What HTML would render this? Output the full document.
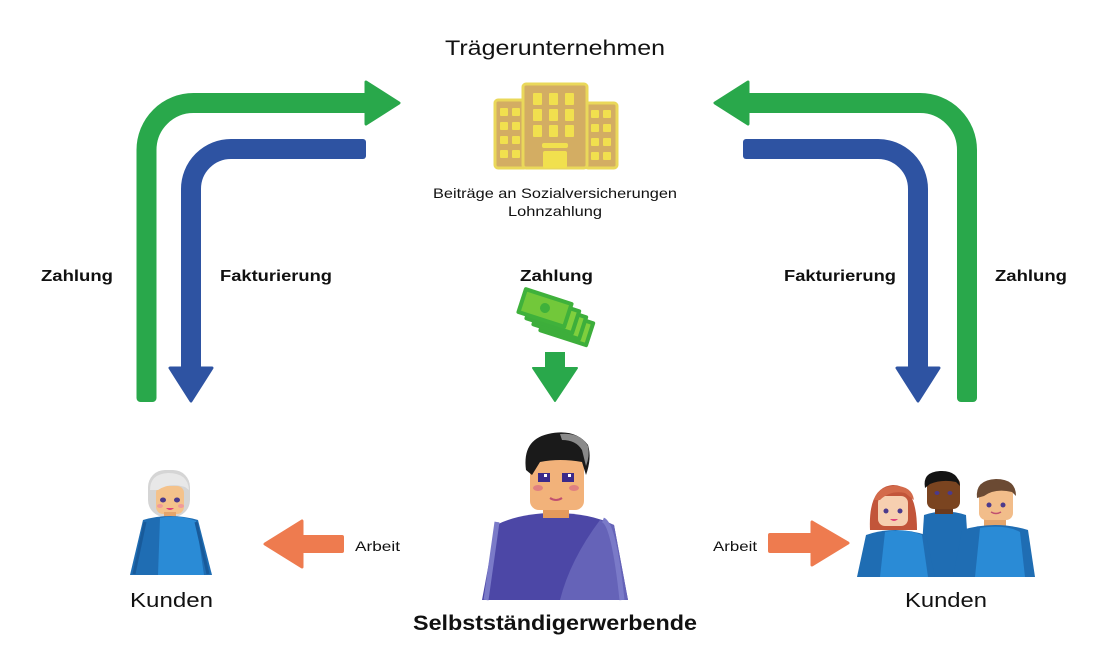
<!DOCTYPE html>
<html><head><meta charset="utf-8"><style>
html,body{margin:0;padding:0;background:#fff;}
svg{display:block;}
text{font-family:"Liberation Sans",sans-serif;fill:#111;}
</style></head><body>
<svg width="1104" height="664" viewBox="0 0 1104 664" xmlns="http://www.w3.org/2000/svg">
<rect width="1104" height="664" fill="#fff"/>

<!-- Left arrows -->
<path d="M146.5,394 V150 A47,47 0 0 1 193.5,103 H368" fill="none" stroke="#29a84b" stroke-width="20"/>
<rect x="136.5" y="380" width="20" height="22" rx="4" fill="#29a84b"/>
<polygon points="366,82 399,103 366,124" fill="#29a84b" stroke="#29a84b" stroke-width="3" stroke-linejoin="round"/>
<path d="M191,370 V189 A40,40 0 0 1 231,149 H362" fill="none" stroke="#2e53a2" stroke-width="20"/>
<rect x="350" y="139" width="16" height="20" rx="3" fill="#2e53a2"/>
<polygon points="170,368 212,368 191,401" fill="#2e53a2" stroke="#2e53a2" stroke-width="3" stroke-linejoin="round"/>

<!-- Right arrows -->
<path d="M967,394 V150 A47,47 0 0 0 920,103 H746" fill="none" stroke="#29a84b" stroke-width="20"/>
<rect x="957" y="380" width="20" height="22" rx="4" fill="#29a84b"/>
<polygon points="748,82 715,103 748,124" fill="#29a84b" stroke="#29a84b" stroke-width="3" stroke-linejoin="round"/>
<path d="M918,370 V189 A40,40 0 0 0 878,149 H750" fill="none" stroke="#2e53a2" stroke-width="20"/>
<rect x="743" y="139" width="16" height="20" rx="3" fill="#2e53a2"/>
<polygon points="897,368 939,368 918,401" fill="#2e53a2" stroke="#2e53a2" stroke-width="3" stroke-linejoin="round"/>

<!-- Labels -->
<text x="555" y="55" font-size="21" textLength="220" lengthAdjust="spacingAndGlyphs" text-anchor="middle">Trägerunternehmen</text>
<text x="555" y="198" font-size="14" textLength="244" lengthAdjust="spacingAndGlyphs" text-anchor="middle">Beiträge an Sozialversicherungen</text>
<text x="555" y="216" font-size="14" textLength="94" lengthAdjust="spacingAndGlyphs" text-anchor="middle">Lohnzahlung</text>
<text x="41" y="281" font-size="16" font-weight="bold" textLength="72" lengthAdjust="spacingAndGlyphs">Zahlung</text>
<text x="220" y="281" font-size="16" font-weight="bold" textLength="112" lengthAdjust="spacingAndGlyphs">Fakturierung</text>
<text x="520" y="281" font-size="16" font-weight="bold" textLength="73" lengthAdjust="spacingAndGlyphs">Zahlung</text>
<text x="784" y="281" font-size="16" font-weight="bold" textLength="112" lengthAdjust="spacingAndGlyphs">Fakturierung</text>
<text x="995" y="281" font-size="16" font-weight="bold" textLength="72" lengthAdjust="spacingAndGlyphs">Zahlung</text>
<text x="130" y="607" font-size="20" textLength="83" lengthAdjust="spacingAndGlyphs">Kunden</text>
<text x="905" y="607" font-size="20" textLength="82" lengthAdjust="spacingAndGlyphs">Kunden</text>
<text x="355" y="551" font-size="14" textLength="45" lengthAdjust="spacingAndGlyphs">Arbeit</text>
<text x="713" y="551" font-size="14" textLength="44" lengthAdjust="spacingAndGlyphs">Arbeit</text>
<text x="413" y="630" font-size="21" font-weight="bold" textLength="284" lengthAdjust="spacingAndGlyphs">Selbstständigerwerbende</text>

<!-- Building -->
<g>
<rect x="495" y="100" width="32" height="68" rx="3" fill="#d3ad63" stroke="#ead85a" stroke-width="3"/>
<rect x="585" y="103" width="32" height="65" rx="3" fill="#d3ad63" stroke="#ead85a" stroke-width="3"/>
<rect x="523" y="84" width="64" height="84" rx="3" fill="#d3ad63" stroke="#ead85a" stroke-width="3"/>
<g fill="#f1e04e">
<rect x="500" y="108" width="8" height="8" rx="1"/><rect x="512" y="108" width="8" height="8" rx="1"/>
<rect x="500" y="122" width="8" height="8" rx="1"/><rect x="512" y="122" width="8" height="8" rx="1"/>
<rect x="500" y="136" width="8" height="8" rx="1"/><rect x="512" y="136" width="8" height="8" rx="1"/>
<rect x="500" y="150" width="8" height="8" rx="1"/><rect x="512" y="150" width="8" height="8" rx="1"/>
<rect x="591" y="110" width="8" height="8" rx="1"/><rect x="603" y="110" width="8" height="8" rx="1"/>
<rect x="591" y="124" width="8" height="8" rx="1"/><rect x="603" y="124" width="8" height="8" rx="1"/>
<rect x="591" y="138" width="8" height="8" rx="1"/><rect x="603" y="138" width="8" height="8" rx="1"/>
<rect x="591" y="152" width="8" height="8" rx="1"/><rect x="603" y="152" width="8" height="8" rx="1"/>
<rect x="533" y="93" width="9" height="12" rx="1"/><rect x="549" y="93" width="9" height="12" rx="1"/><rect x="565" y="93" width="9" height="12" rx="1"/>
<rect x="533" y="109" width="9" height="12" rx="1"/><rect x="549" y="109" width="9" height="12" rx="1"/><rect x="565" y="109" width="9" height="12" rx="1"/>
<rect x="533" y="125" width="9" height="12" rx="1"/><rect x="549" y="125" width="9" height="12" rx="1"/><rect x="565" y="125" width="9" height="12" rx="1"/>
<rect x="542" y="143" width="26" height="5" rx="2"/>
<rect x="543" y="151" width="24" height="17" rx="2"/>
</g>
</g>

<!-- Money -->
<g>
<g transform="rotate(18 566 326)">
<rect x="541" y="313" width="52" height="27" rx="2" fill="#3dae3b"/><rect x="545" y="317" width="44" height="19" fill="#7fcf3d"/>
</g>
<g transform="rotate(18 559 320)">
<rect x="534" y="307" width="52" height="27" rx="2" fill="#3dae3b"/><rect x="538" y="311" width="44" height="19" fill="#7fcf3d"/>
</g>
<g transform="rotate(18 552 314)">
<rect x="527" y="301" width="52" height="27" rx="2" fill="#3dae3b"/><rect x="531" y="305" width="44" height="19" fill="#7fcf3d"/>
</g>
<g transform="rotate(18 545 308)">
<rect x="519" y="294" width="52" height="28" rx="2" fill="#3fb13b"/><rect x="523" y="298" width="44" height="20" fill="#72c83a"/>
<circle cx="545" cy="308" r="5" fill="#3fb13b"/>
</g>
</g>

<!-- Green down arrow -->
<rect x="545" y="352" width="20" height="18" fill="#29a84b"/>
<polygon points="533,368 577,368 555,401" fill="#29a84b" stroke="#29a84b" stroke-width="2" stroke-linejoin="round"/>

<!-- Orange arrows -->
<rect x="300" y="535" width="44" height="18" rx="2" fill="#ee7b4f"/>
<polygon points="302,521 302,567 265,544" fill="#ee7b4f" stroke="#ee7b4f" stroke-width="3" stroke-linejoin="round"/>
<rect x="768" y="533" width="46" height="20" rx="2" fill="#ee7b4f"/>
<polygon points="812,522 812,565 848,543" fill="#ee7b4f" stroke="#ee7b4f" stroke-width="3" stroke-linejoin="round"/>

<!-- Grandma -->
<g>
<rect x="148" y="470" width="42" height="47" rx="17" fill="#d5d5d5"/>
<rect x="156" y="486" width="28" height="28" rx="7" fill="#f4c28b"/>
<path d="M150,490 Q150,474 168,473 Q188,473 189,490 L185,487 Q170,482 158,490 Z" fill="#e8e8e8"/>
<ellipse cx="163" cy="500" rx="3" ry="2.5" fill="#4b3a8c"/>
<ellipse cx="177" cy="500" rx="3" ry="2.5" fill="#4b3a8c"/>
<ellipse cx="160" cy="506" rx="3" ry="2" fill="#f09a9a"/>
<ellipse cx="181" cy="506" rx="3" ry="2" fill="#f09a9a"/>
<path d="M166,508 Q170,512 174,508 Z" fill="#e0407a"/>
<rect x="164" y="512" width="12" height="8" fill="#e4a56c"/>
<path d="M143,520 Q170,512 198,520 L212,575 L130,575 Z" fill="#1f6db3"/>
<path d="M160,518 Q178,514 196,521 L204,575 L158,575 Z" fill="#2a8bd6"/>
<path d="M145,522 L134,574" stroke="#185a9a" stroke-width="3"/>
<path d="M196,522 L208,574" stroke="#185a9a" stroke-width="3"/>
</g>

<!-- Center man -->
<g>
<path d="M482,600 L496,525 Q520,513 555,513 Q590,513 614,525 L628,600 Z" fill="#4c47a6"/>
<path d="M560,600 Q570,560 600,520 L614,525 L628,600 Z" fill="#6563b8"/>
<path d="M497,522 L486,600" stroke="#7a7ac8" stroke-width="5"/>
<path d="M603,520 Q614,524 622,600" stroke="#7a7ac8" stroke-width="5" fill="none"/>
<rect x="543" y="502" width="26" height="16" fill="#e59a5c"/>
<rect x="530" y="456" width="54" height="54" rx="9" fill="#f2b27a"/>
<path d="M526,470 Q522,440 548,434 Q575,428 588,445 Q592,458 586,475 L582,462 Q560,458 540,462 L532,475 Z" fill="#1a1a1a"/>
<path d="M560,434 Q580,432 588,446 Q590,456 586,466 L582,450 Q576,440 562,440 Z" fill="#8a8a8a"/>
<rect x="538" y="473" width="12" height="9" fill="#3b2a8a"/>
<rect x="562" y="473" width="12" height="9" fill="#3b2a8a"/>
<rect x="544" y="474" width="3" height="3" fill="#fff"/>
<rect x="568" y="474" width="3" height="3" fill="#fff"/>
<ellipse cx="538" cy="488" rx="5" ry="3" fill="#e08080"/>
<ellipse cx="574" cy="488" rx="5" ry="3" fill="#e08080"/>
<path d="M550,498 Q556,502 562,498" stroke="#c05070" stroke-width="2" fill="none"/>
</g>

<!-- Right group -->
<g>
<path d="M920,577 L924,515 Q945,508 966,515 L970,577 Z" fill="#1f6db3"/>
<rect x="935" y="500" width="18" height="14" fill="#6b3a1e"/>
<rect x="927" y="477" width="33" height="32" rx="7" fill="#7a4420"/>
<path d="M925,488 Q922,472 940,471 Q958,470 960,486 L956,482 Q942,479 930,484 Z" fill="#141414"/>
<ellipse cx="937" cy="493" rx="2.5" ry="2" fill="#4b3a8c"/>
<ellipse cx="950" cy="493" rx="2.5" ry="2" fill="#4b3a8c"/>
<path d="M870,530 Q868,487 893,485 Q917,485 917,530 Z" fill="#c2553a"/>
<rect x="878" y="496" width="30" height="30" rx="7" fill="#f6cfb0"/>
<path d="M874,500 Q878,486 895,486 Q912,486 914,500 L905,493 Q890,490 880,500 Z" fill="#d36a4a"/>
<ellipse cx="886" cy="511" rx="2.5" ry="2.5" fill="#4b3a8c"/>
<ellipse cx="900" cy="511" rx="2.5" ry="2.5" fill="#4b3a8c"/>
<path d="M890,519 Q894,523 898,519 Z" fill="#e0407a"/>
<path d="M866,535 Q895,525 926,535 L935,577 L857,577 Z" fill="#1f6db3"/>
<path d="M885,532 Q905,528 922,535 L928,577 L880,577 Z" fill="#2a8bd6"/>
<rect x="984" y="515" width="22" height="14" fill="#e4a56c"/>
<rect x="979" y="486" width="34" height="34" rx="7" fill="#f2bd8a"/>
<path d="M977,498 Q975,480 996,479 Q1016,479 1016,496 L1012,492 Q995,488 984,496 Z" fill="#6b4a33"/>
<ellipse cx="989" cy="505" rx="2.5" ry="2.5" fill="#4b3a8c"/>
<ellipse cx="1003" cy="505" rx="2.5" ry="2.5" fill="#4b3a8c"/>
<path d="M991,512 Q996,515 1001,512" stroke="#c05070" stroke-width="1.5" fill="none"/>
<path d="M962,530 Q995,520 1028,530 L1035,577 L953,577 Z" fill="#1f6db3"/>
<path d="M980,528 Q1005,524 1020,532 L1025,577 L975,577 Z" fill="#2a8bd6"/>
</g>
</svg>
</body></html>
